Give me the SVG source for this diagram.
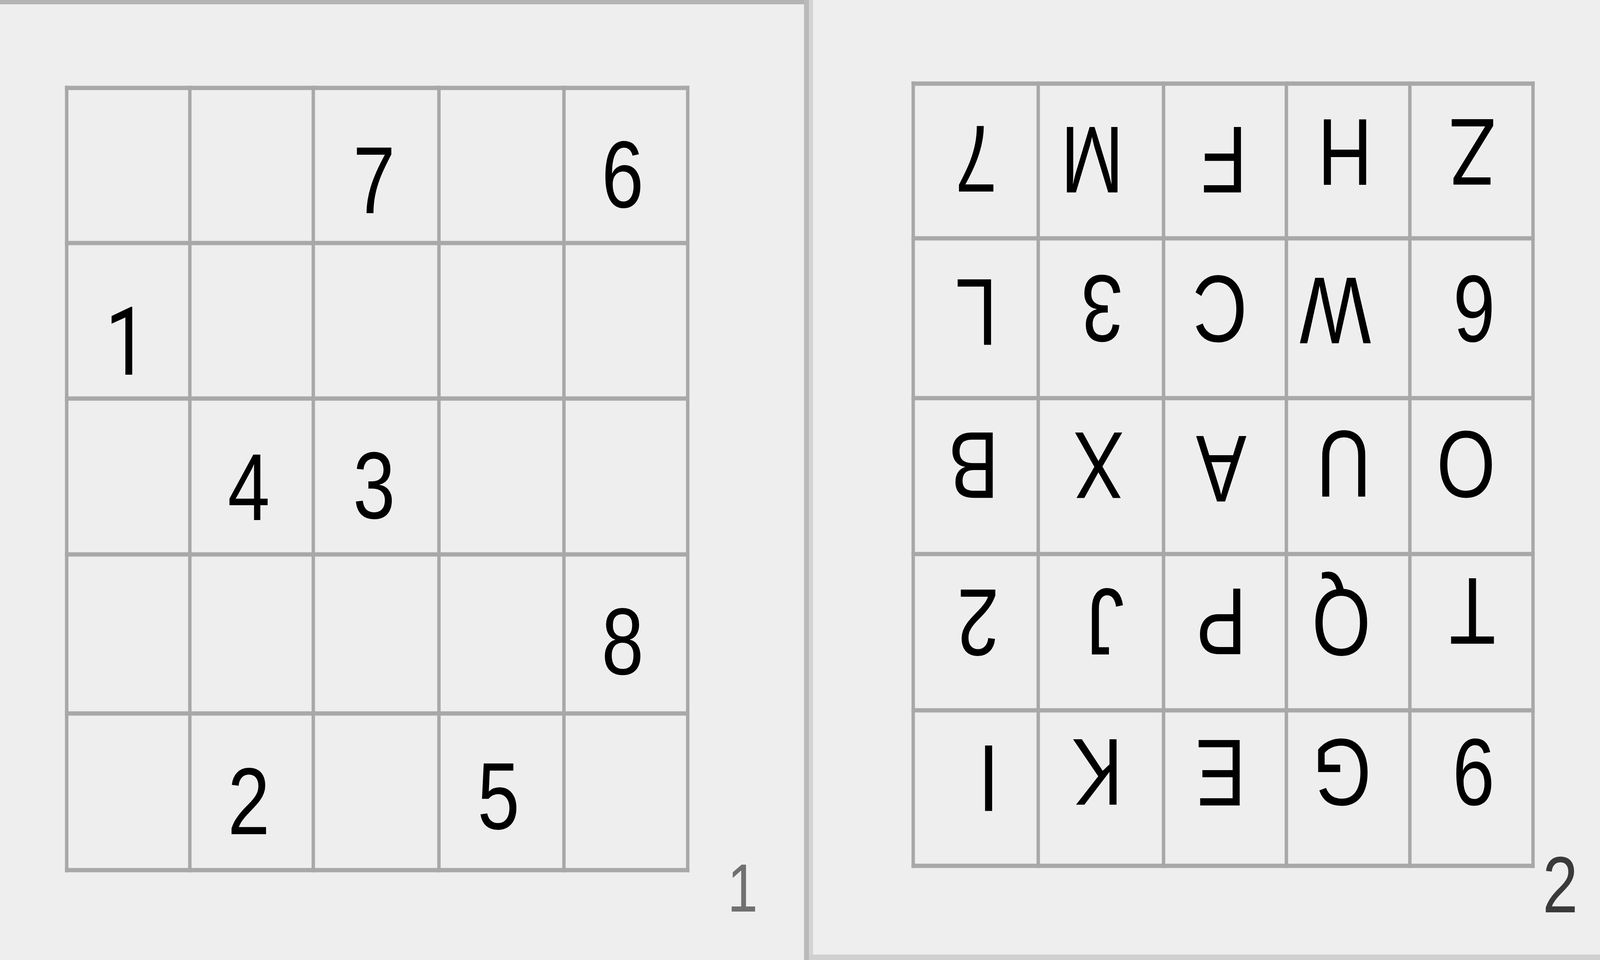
<svg xmlns="http://www.w3.org/2000/svg" width="5158" height="2457" viewBox="0 0 5158 2457" preserveAspectRatio="none" style="width:100vw;height:100vh;display:block">
<style>
.bg{fill:#eeeeee}
.grid line{stroke:#a8a8a8;stroke-width:11;stroke-linecap:square}
.cell{font-family:"Liberation Sans",Arial,sans-serif;font-size:244px;fill:#000000;text-anchor:middle}
.one{font-family:Roboto,"Noto Sans",sans-serif}
.lab{font-family:"Liberation Sans",Arial,sans-serif;text-anchor:middle}
</style>
<rect class="bg" x="-600" y="-600" width="6358" height="3657"/>

<g id="panel-1">
  <rect x="0" y="0" width="2600" height="11" fill="#b4b4b4"/>
  <rect x="2592" y="0" width="16" height="2457" fill="#bababa"/>
  <g id="grid-1" class="grid">
    <line x1="215" y1="225" x2="215" y2="2227"/>
    <line x1="612" y1="225" x2="612" y2="2227"/>
    <line x1="1010" y1="225" x2="1010" y2="2227"/>
    <line x1="1415" y1="225" x2="1415" y2="2227"/>
    <line x1="1818" y1="225" x2="1818" y2="2227"/>
    <line x1="2217" y1="225" x2="2217" y2="2227"/>
    <line x1="215" y1="225" x2="2217" y2="225"/>
    <line x1="215" y1="622" x2="2217" y2="622"/>
    <line x1="215" y1="1020" x2="2217" y2="1020"/>
    <line x1="215" y1="1419" x2="2217" y2="1419"/>
    <line x1="215" y1="1826" x2="2217" y2="1826"/>
    <line x1="215" y1="2227" x2="2217" y2="2227"/>
  </g>
  <g id="numbers-1">
    <text class="cell" x="1206" y="545">7</text>
    <text class="cell" x="2007" y="531">6</text>
    <text class="cell one" x="408" y="959">1</text>
    <text class="cell" x="802" y="1331">4</text>
    <text class="cell" x="1206" y="1327">3</text>
    <text class="cell" x="2007" y="1726">8</text>
    <text class="cell" x="802" y="2135">2</text>
    <text class="cell" x="1607" y="2122">5</text>
  </g>
  <text id="label-1" class="lab one" x="2394" y="2333" font-size="175" fill="#707070">1</text>
</g>

<g id="panel-2">
  <rect x="2608" y="0" width="13" height="2457" fill="#d4d4d4"/>
  <rect x="2608" y="2443" width="2550" height="14" fill="#d0d0d0"/>
  <g id="grid-2" class="grid">
    <line x1="2944" y1="214" x2="2944" y2="2216"/>
    <line x1="3347" y1="214" x2="3347" y2="2216"/>
    <line x1="3751" y1="214" x2="3751" y2="2216"/>
    <line x1="4147" y1="214" x2="4147" y2="2216"/>
    <line x1="4545" y1="214" x2="4545" y2="2216"/>
    <line x1="4942" y1="214" x2="4942" y2="2216"/>
    <line x1="2944" y1="214" x2="4942" y2="214"/>
    <line x1="2944" y1="610" x2="4942" y2="610"/>
    <line x1="2944" y1="1019" x2="4942" y2="1019"/>
    <line x1="2944" y1="1418" x2="4942" y2="1418"/>
    <line x1="2944" y1="1818" x2="4942" y2="1818"/>
    <line x1="2944" y1="2216" x2="4942" y2="2216"/>
  </g>
  <g id="letters-2">
    <text class="cell" x="3147" y="497" transform="rotate(180 3147 410)">7</text>
    <text class="cell" x="3521" y="499" transform="rotate(180 3521 412)">M</text>
    <text class="cell" x="3946" y="499" transform="rotate(180 3946 412)">F</text>
    <text class="cell" x="4336" y="479" transform="rotate(180 4336 392)">H</text>
    <text class="cell" x="4747" y="479" transform="rotate(180 4747 392)">Z</text>

    <text class="cell" x="3147" y="889" transform="rotate(180 3147 802)">L</text>
    <text class="cell" x="3553" y="879" transform="rotate(180 3553 792)">3</text>
    <text class="cell" x="3933" y="880" transform="rotate(180 3933 793)">C</text>
    <text class="cell" x="4305" y="885" transform="rotate(180 4305 798)">W</text>
    <text class="cell" x="4753" y="880" transform="rotate(180 4753 793)">6</text>

    <text class="cell" x="3139" y="1281" transform="rotate(180 3139 1194)">B</text>
    <text class="cell" x="3542" y="1281" transform="rotate(180 3542 1194)">X</text>
    <text class="cell" x="3937" y="1290" transform="rotate(180 3937 1203)">A</text>
    <text class="cell" x="4332" y="1277" transform="rotate(180 4332 1190)">U</text>
    <text class="cell" x="4726" y="1278" transform="rotate(180 4726 1191)">O</text>

    <text class="cell" x="3153" y="1683" transform="rotate(180 3153 1596)">2</text>
    <text class="cell" x="3563" y="1681" transform="rotate(180 3563 1594)">J</text>
    <text class="cell" x="3937" y="1681" transform="rotate(180 3937 1594)">P</text>
    <text class="cell" x="4324" y="1683" transform="rotate(180 4324 1596)">Q</text>
    <text class="cell" x="4747" y="1654" transform="rotate(180 4747 1567)">T</text>

    <text class="cell" x="3187" y="2082" transform="rotate(180 3187 1995)">I</text>
    <text class="cell" x="3538" y="2066" transform="rotate(180 3538 1979)">K</text>
    <text class="cell" x="3935" y="2068" transform="rotate(180 3935 1981)">E</text>
    <text class="cell" x="4326" y="2066" transform="rotate(180 4326 1979)">G</text>
    <text class="cell" x="4751" y="2066" transform="rotate(180 4751 1979)">9</text>
  </g>
  <text id="label-2" class="lab" x="5030" y="2335" font-size="205" fill="#3a3a3a">2</text>
</g>
</svg>
